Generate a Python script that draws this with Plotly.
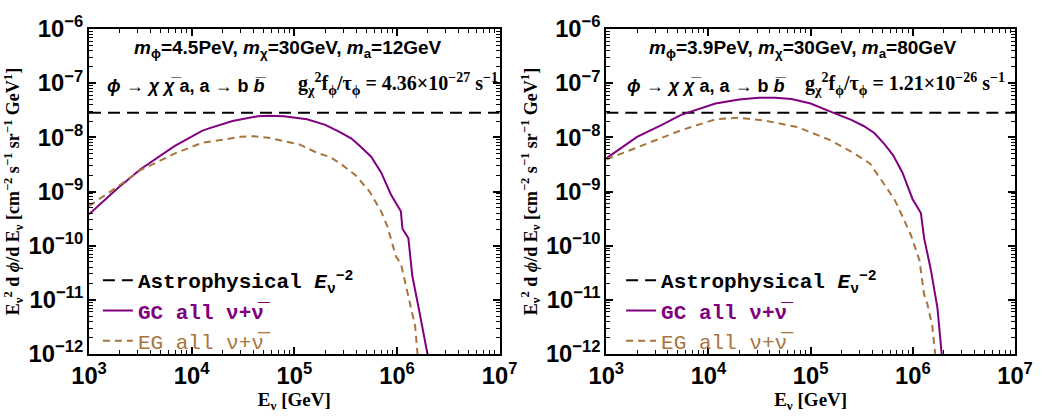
import plotly.graph_objects as go

# ---------------- data ----------------
astro_level = 2.85e-8  # E^2 flux of astrophysical E^-2 spectrum
x_range_energy = [1e3, 1e7]

# Left panel: m_phi=4.5 PeV, m_a=12 GeV
left_gc_E = [1.0e3, 1.9e3, 3.2e3, 6.8e3, 1.26e4, 1.45e4, 2.5e4, 4.4e4, 5.6e4, 7.9e4, 1.33e5,
             2.0e5, 2.75e5, 3.6e5, 4.35e5, 5.6e5, 7.0e5, 8.75e5, 1.09e6, 1.13e6,
             1.29e6, 1.41e6, 1.64e6, 1.97e6, 2.0e6]
left_gc_F = [3.8e-10, 1.15e-9, 2.6e-9, 6.9e-9, 1.32e-8, 1.45e-8, 2.0e-8, 2.45e-8, 2.5e-8,
             2.45e-8, 2.15e-8, 1.7e-8, 1.26e-8, 9.5e-9, 6.9e-9, 4.4e-9, 2.25e-9,
             8.7e-10, 4.3e-10, 2.05e-10, 1.38e-10, 2.75e-11, 6.5e-12, 1.07e-12, 9e-13]
left_eg_E = [1.0e3, 1.9e3, 3.2e3, 6.8e3, 1.26e4, 2.0e4, 3.0e4, 4.0e4, 5.6e4, 7.9e4,
             1.12e5, 1.66e5, 2.24e5, 2.8e5, 4.0e5, 5.4e5, 7.0e5, 8.1e5, 9.8e5, 1.09e6,
             1.22e6, 1.36e6, 1.5e6, 1.58e6, 1.59e6]
left_eg_F = [5.4e-10, 1.23e-9, 2.5e-9, 5.0e-9, 7.9e-9, 9.1e-9, 1.02e-8, 1.05e-8, 9.8e-9,
             8.5e-9, 7.4e-9, 5.2e-9, 4.3e-9, 3.3e-9, 1.95e-9, 1.0e-9, 4.3e-10, 2.2e-10,
             6.2e-11, 4.7e-11, 1.86e-11, 7.2e-12, 3.3e-12, 1.07e-12, 9e-13]

# Right panel: m_phi=3.9 PeV, m_a=80 GeV
right_gc_E = [1.0e3, 2.0e3, 3.5e3, 5.4e3, 1.17e4, 2.0e4, 3.1e4, 4.5e4, 6.5e4, 1.0e5,
              1.7e5, 2.5e5, 3.3e5, 4.2e5, 5.3e5, 6.4e5, 7.9e5, 9.95e5, 1.2e6, 1.29e6,
              1.5e6, 1.74e6, 1.91e6, 1.92e6]
right_gc_F = [4.1e-9, 1.02e-8, 1.7e-8, 2.6e-8, 4.2e-8, 5.0e-8, 5.4e-8, 5.4e-8, 5.1e-8,
              4.2e-8, 2.8e-8, 2.1e-8, 1.62e-8, 1.2e-8, 7.4e-9, 4.7e-9, 2.25e-9, 7.2e-10,
              4.0e-10, 1.38e-10, 3.6e-11, 7.2e-12, 1.07e-12, 9e-13]
right_eg_E = [1.0e3, 2.0e3, 5.4e3, 1.17e4, 1.95e4, 3.5e4, 7.4e4, 1.55e5, 2.6e5, 3.8e5,
              5.1e5, 6.6e5, 7.9e5, 9.6e5, 1.16e6, 1.29e6, 1.39e6, 1.55e6, 1.65e6, 1.66e6]
right_eg_F = [3.9e-9, 6.5e-9, 1.35e-8, 2.15e-8, 2.3e-8, 2.05e-8, 1.55e-8, 8.9e-9, 5.2e-9,
              3.3e-9, 1.5e-9, 7.2e-10, 3.5e-10, 1.55e-10, 5.4e-11, 1.26e-11, 8.3e-12,
              3.3e-12, 1.07e-12, 9e-13]

panel_params = ["<i>m</i><sub>ϕ</sub>=4.5PeV, <i>m</i><sub>χ</sub>=30GeV, <i>m</i><sub>a</sub>=12GeV",
                "<i>m</i><sub>ϕ</sub>=3.9PeV, <i>m</i><sub>χ</sub>=30GeV, <i>m</i><sub>a</sub>=80GeV"]
panel_rates = ["g<sub>χ</sub><sup>2</sup>f<sub>ϕ</sub>/τ<sub>ϕ</sub> = 4.36×10<sup>−27</sup> s<sup>−1</sup>",
               "g<sub>χ</sub><sup>2</sup>f<sub>ϕ</sub>/τ<sub>ϕ</sub> = 1.21×10<sup>−26</sup> s<sup>−1</sup>"]
decay_text = "<i>ϕ</i> → <i>χ</i> <i>χ̅</i> a, a → b <i>b̅</i>"

legend_names = ["<b>Astrophysical <i>E</i><sub>ν</sub><sup>−2</sup></b>",
                "<b><span style='color:#800080'>GC all ν+ν̅</span></b>",
                "<span style='color:#A8743E'>EG all ν+ν̅</span>"]

PURPLE = "#800080"
BROWN = "#A8743E"

# ---------------- figure ----------------
W, H = 1045, 418
ML, MR, MT, MB = 89, 18, 17, 55
PW = W - ML - MR
PH = H - MT - MB


def px(x):
    return (x - ML) / PW


def py(y):
    return (H - MB - y) / PH


fig = go.Figure()

panels = [
    (left_gc_E, left_gc_F, left_eg_E, left_eg_F, "x", "y", "legend"),
    (right_gc_E, right_gc_F, right_eg_E, right_eg_F, "x2", "y2", "legend2"),
]
for gcE, gcF, egE, egF, xa, ya, lg in panels:
    fig.add_trace(go.Scatter(x=x_range_energy, y=[astro_level, astro_level], mode="lines",
                             line=dict(color="black", width=2, dash="12px,7px"),
                             name=legend_names[0], xaxis=xa, yaxis=ya, legend=lg))
    fig.add_trace(go.Scatter(x=gcE, y=gcF, mode="lines",
                             line=dict(color=PURPLE, width=2),
                             name=legend_names[1], xaxis=xa, yaxis=ya, legend=lg))
    fig.add_trace(go.Scatter(x=egE, y=egF, mode="lines",
                             line=dict(color=BROWN, width=2, dash="7px,5px"),
                             name=legend_names[2], xaxis=xa, yaxis=ya, legend=lg))

tickfont = dict(family="Liberation Sans, Arial", size=19, color="black", weight="bold")
titlefont = dict(family="Liberation Serif, Times New Roman", size=19, color="black", weight="bold")

common_axis = dict(type="log", showgrid=False, zeroline=False, showline=True,
                   linecolor="black", linewidth=2, mirror="ticks",
                   ticks="inside", ticklen=7, tickwidth=1.5, tickcolor="black",
                   dtick=1, exponentformat="power", showexponent="all",
                   tickfont=tickfont,
                   minor=dict(ticks="inside", ticklen=4, tickwidth=1, tickcolor="black", showgrid=False))

xdom1 = [0, px(505)]
xdom2 = [px(613), 1]

ytitle = ("E<sub>ν</sub><sup>2</sup> d <i>ϕ</i>/d E<sub>ν</sub> "
          "[cm<sup>−2</sup> s<sup>−1</sup> sr<sup>−1</sup> GeV<sup>1</sup>]")
xtitle = "E<sub>ν</sub> [GeV]"

legend_common = dict(xanchor="left", yanchor="top",
                     bgcolor="rgba(0,0,0,0)", borderwidth=0, tracegroupgap=0,
                     font=dict(family="Liberation Mono, Courier New", size=21, color="black"),
                     itemwidth=30)

fig.update_layout(
    width=W, height=H,
    margin=dict(l=ML, r=MR, t=MT, b=MB),
    paper_bgcolor="white", plot_bgcolor="white",
    xaxis=dict(common_axis, domain=xdom1, range=[3, 7], anchor="y",
               title=dict(text=xtitle, font=titlefont, standoff=4)),
    yaxis=dict(common_axis, domain=[0, 1], range=[-12, -6], anchor="x",
               title=dict(text=ytitle, font=dict(titlefont, size=18), standoff=4)),
    xaxis2=dict(common_axis, domain=xdom2, range=[3, 7], anchor="y2",
                title=dict(text=xtitle, font=titlefont, standoff=4)),
    yaxis2=dict(common_axis, domain=[0, 1], range=[-12, -6], anchor="x2",
                title=dict(text=ytitle, font=dict(titlefont, size=18), standoff=4)),
    legend=dict(legend_common, x=px(98), y=py(263)),
    legend2=dict(legend_common, x=px(628), y=py(263)),
    showlegend=True,
)

annfont = dict(family="Liberation Sans, Arial", size=19, color="black", weight="bold")
decfont = dict(family="Liberation Sans, Arial", size=18, color="black", weight="bold")
ratefont = dict(family="Liberation Serif, Times New Roman", size=20, color="black", weight="bold")

anns = []
for i, (cx, lx, rx) in enumerate([(291, 105, 505), (812, 632, 1019)]):
    anns.append(dict(text=panel_params[i], x=px(cx), y=py(38), xref="paper", yref="paper",
                     xanchor="center", yanchor="middle", showarrow=False, font=annfont))
    anns.append(dict(text=decay_text, x=px(lx), y=py(78), xref="paper", yref="paper",
                     xanchor="left", yanchor="middle", showarrow=False, font=decfont))
    anns.append(dict(text=panel_rates[i], x=px(rx), y=py(76), xref="paper", yref="paper",
                     xanchor="right", yanchor="middle", showarrow=False, font=ratefont))
fig.update_layout(annotations=anns)

fig.write_html("out.html")
